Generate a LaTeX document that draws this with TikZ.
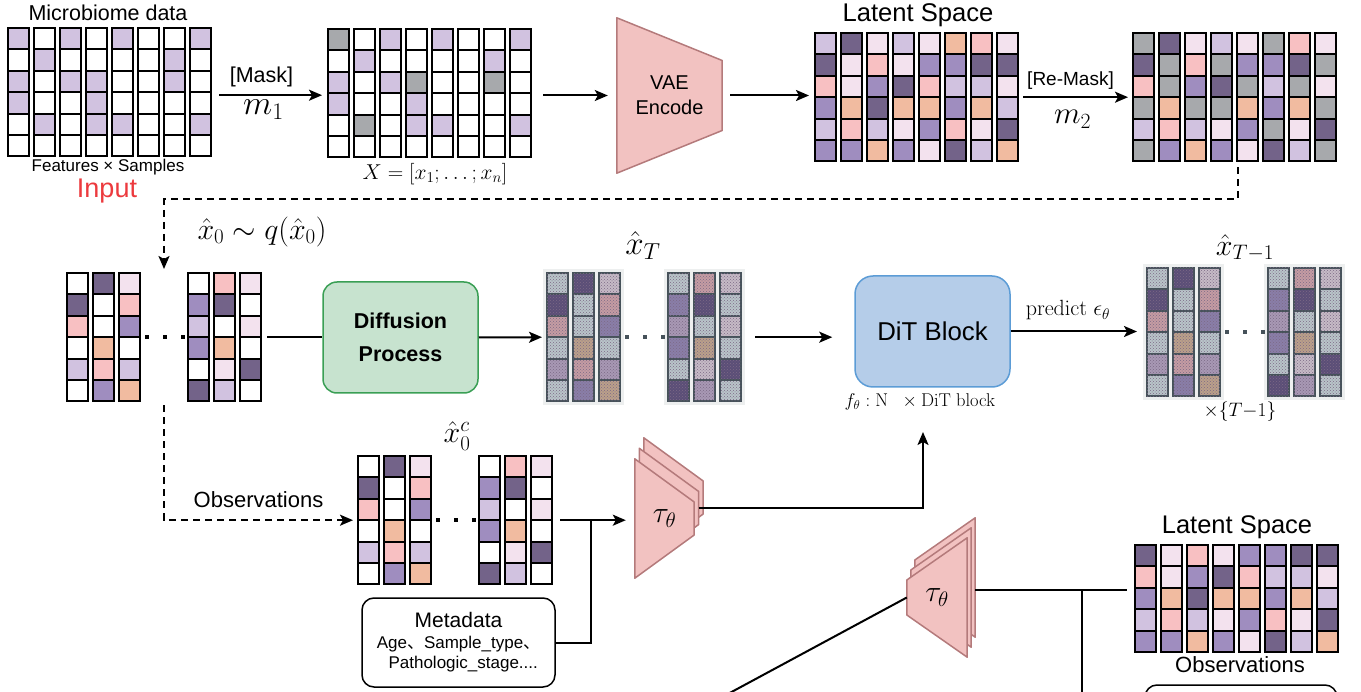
\RequirePackage{fix-cm}
\documentclass[tikz,border=0pt]{standalone}
\usepackage{amsmath}
\usepackage[no-math]{fontspec}
\setmainfont{Liberation Sans}
\newfontfamily\cjk{Noto Sans CJK SC}
\usetikzlibrary{arrows.meta,backgrounds,calc,patterns,positioning}

% cell colours
\definecolor{cellW}{HTML}{FFFFFF}
\definecolor{cellL}{HTML}{D1C2E0}
\definecolor{cellM}{HTML}{9F8DBF}
\definecolor{cellD}{HTML}{736389}
\definecolor{cellP}{HTML}{F8C0C2}
\definecolor{cellO}{HTML}{F1BBA0}
\definecolor{cellV}{HTML}{F3E2EE}
\definecolor{cellG}{HTML}{A7A9AC}
% noisy cell colours
\definecolor{ncellW}{HTML}{B9C4C9}
\definecolor{ncellL}{HTML}{A898B4}
\definecolor{ncellM}{HTML}{8A7EA8}
\definecolor{ncellD}{HTML}{5B4E77}
\definecolor{ncellP}{HTML}{C59CA3}
\definecolor{ncellO}{HTML}{BBA08A}
\definecolor{ncellV}{HTML}{C6BAC6}
\definecolor{nline}{HTML}{46525A}
\definecolor{nspeck}{HTML}{7C6A86}
\definecolor{nback}{HTML}{EDEFEF}
% boxes
\definecolor{encfill}{HTML}{F2C2C1}
\definecolor{encline}{HTML}{B47A7B}
\definecolor{difffill}{HTML}{C7E3CF}
\definecolor{diffline}{HTML}{3A9F55}
\definecolor{ditfill}{HTML}{B5CDE9}
\definecolor{ditline}{HTML}{5C9CD6}
\definecolor{inred}{HTML}{EC3A3E}

\newcommand{\fsz}[2]{\fontsize{#1}{#2}\selectfont}

% #1 grid node, #2 cell style (cell / ncell), #3 extra gap after column 3, #4 rows
\newcommand{\cellgrid}[4]{%
  \foreach \row [count=\j] in {#4} {
    \foreach \code [count=\i] in \row {
      \pgfmathsetmacro{\cx}{(\i-1)*26+(\i>3)*#3}
      \pgfmathsetmacro{\cy}{(\j-1)*21.4}
      \edef\fillcol{#2\code}
      \draw[#2, fill=\fillcol] ($(#1.north west)+(\cx,\cy)$) rectangle ++(21,21.4);
    }
  }%
}
% three dots between the column groups
\newcommand{\griddots}[2]{%
  \foreach \dx in {80,98,116}
    \fill[#2] ($(#1.north west)+(\dx-2.3,61.9)$) rectangle ++(4.6,4.6);%
}
% pale backing of a noisy grid
\newcommand{\noisebg}[1]{%
  \foreach \dx in {0,121}
    \fill[nbg] ($(#1.north west)+(\dx-4,-4)$) rectangle ++(81,136.4);%
}

\begin{document}
\begin{tikzpicture}[
  x=1pt, y=-1pt,
  >={Stealth[length=13pt,width=11pt,inset=3pt]},
  % node styles
  gridbox/.style={rectangle, inner sep=0pt, outer sep=0pt, anchor=north west},
  grid8/.style={gridbox, minimum width=203pt, minimum height=128.4pt},
  grid8s/.style={gridbox, minimum width=203pt, minimum height=107pt},
  grid6/.style={gridbox, minimum width=194pt, minimum height=128.4pt},
  cell/.style={draw=black, line width=2pt},
  ncell/.style={draw=nline, line width=2pt,
    postaction={pattern=crosshatch dots, pattern color=nspeck}},
  nbg/.style={fill=nback},
  txt/.style={inner sep=1pt},
  encbox/.style={rectangle, inner sep=0pt, align=center},
  enc/.style={fill=encfill, draw=encline, line width=1.5pt, line join=round},
  diffbox/.style={
    rectangle, rounded corners=14pt,
    draw=diffline, fill=difffill, line width=1.5pt,
    minimum width=155pt, minimum height=111pt,
    align=center, font=\bfseries\fsz{21.5}{33}
  },
  ditbox/.style={
    rectangle, rounded corners=18pt,
    draw=ditline, fill=ditfill, line width=1.5pt,
    minimum width=155pt, minimum height=111pt,
    font=\fsz{25.8}{28}
  },
  metabox/.style={
    rectangle, rounded corners=12pt,
    draw=black, fill=white, line width=1.5pt,
    minimum width=193pt, minimum height=89pt,
    inner sep=0pt, align=center, font=\fsz{17}{20}
  },
  arr/.style={->, line width=2pt},
  plain/.style={line width=2pt},
  darr/.style={->, line width=2pt, dash pattern=on 7pt off 5pt}
  ]
  \useasboundingbox (0,0) rectangle (1361,692);
  \clip (0,0) rectangle (1361,692);

  %% ─── ROW 1: INPUT, MASK, VAE, LATENT ─────────────────────────────────────
  \node[grid8] (inp) at (8,28) {};
  \cellgrid{inp}{cell}{0}{{L,W,L,W,L,W,W,L},{W,L,W,W,W,W,L,W},{L,W,L,L,W,W,L,W},
    {L,W,W,L,W,W,W,W},{W,L,W,L,L,W,W,L},{W,W,W,W,W,W,W,W}}
  \node[txt, font=\fsz{21.5}{24}] (mbtitle) at (108,13) {Microbiome data};
  \node[txt, font=\fsz{17}{19}] (fxs) at (108,167) {Features × Samples};
  \node[txt, font=\fsz{27}{29}, text=inred] (inlbl) at (107,191) {Input};

  \node[grid8] (msk) at (328,29) {};
  \cellgrid{msk}{cell}{0}{{G,W,L,W,L,W,W,L},{W,L,W,W,W,W,L,W},{L,W,L,G,W,W,G,W},
    {L,W,W,L,W,W,W,W},{W,G,W,L,L,W,W,L},{W,W,W,W,W,W,W,W}}
  \node[txt, font=\fsz{21.5}{23}] (xlist) at (435,174) {$X=[x_1;\ldots;x_n]$};

  \draw[arr] ([xshift=8pt,yshift=-3pt]inp.east) -- ([xshift=-6pt,yshift=-2pt]msk.west)
    node[midway, above=4pt, xshift=-9pt, font=\fsz{21.5}{23}] {[Mask]}
    node[midway, below=0pt, xshift=-7pt, font=\fsz{34}{36}] {$m_1$};

  \node[encbox, minimum width=105pt, minimum height=155pt, font=\fsz{20}{25}] (vae) at (669.5,95.5) {VAE\\Encode};
  \draw[arr] ([xshift=12pt]msk.east |- vae.west) -- ([xshift=-9pt]vae.west);

  \node[grid8] (lat) at (815,33) {};
  \cellgrid{lat}{cell}{0}{{L,D,V,L,V,O,P,V},{D,V,P,V,M,M,D,D},{P,V,M,D,P,L,L,V},
    {M,O,D,O,O,M,O,L},{L,P,L,V,M,P,V,D},{M,M,O,M,V,D,L,O}}
  \node[txt, font=\fsz{25.6}{28}] (lattl) at (918,15) {Latent Space};
  \draw[arr] ([xshift=8pt]vae.east) -- ([xshift=-6pt]lat.west |- vae.east);

  \node[grid8] (rmk) at (1133,33) {};
  \cellgrid{rmk}{cell}{0}{{G,D,V,L,V,G,P,V},{D,G,P,G,M,M,D,G},{P,G,M,D,G,L,G,V},
    {G,O,G,G,O,M,O,G},{L,P,L,V,M,G,V,D},{G,M,O,M,V,D,L,G}}
  \draw[arr] ([xshift=5pt]lat.east) -- ([xshift=-5pt]rmk.west)
    node[midway, above=3pt, xshift=-5pt, font=\fsz{19}{21}] {[Re-Mask]}
    node[midway, below=9pt, xshift=-3pt, font=\fsz{31}{33}] {$m_2$};

  %% ─── ROW 2: DIFFUSION ────────────────────────────────────────────────────
  \node[grid6] (x0) at (67,273) {};
  \cellgrid{x0}{cell}{43}{{W,D,V,W,P,V},{D,W,P,M,D,W},{P,W,M,L,W,V},
    {W,O,W,M,O,W},{L,P,L,W,V,D},{W,M,O,D,L,W}}
  \griddots{x0}{black}
  \node[txt, font=\fsz{30}{32}] (q0) at (262,232) {$\hat{x}_0\sim q(\hat{x}_0)$};

  % feedback from the re-masked latent
  \draw[darr] ([xshift=3pt,yshift=-6pt]rmk.south) -- ++(0,32) -| ([yshift=4pt]x0.north);

  \node[diffbox] (diff) at (400.5,337.5) {Diffusion\\Process};
  \draw[plain] ([xshift=6pt]x0.east) -- (diff.west |- x0.east);

  \node[grid6] (xT) at (547,273) {};
  \noisebg{xT}
  \cellgrid{xT}{ncell}{43}{{W,D,V,W,P,V},{D,W,P,M,D,W},{P,W,M,L,W,V},
    {W,O,W,M,O,W},{L,P,L,W,V,D},{W,M,O,D,L,W}}
  \griddots{xT}{nline}
  \node[txt, font=\fsz{33}{35}] (xTl) at (643,246) {$\hat{x}_T$};
  \draw[arr] (diff.east) -- ([xshift=-5pt]xT.west);

  \node[ditbox] (dit) at (932.5,331.5) {DiT Block};
  \node[txt, font=\fsz{18.5}{20}] (ftheta) at (920,402) {$f_\theta:\mathrm{N}\ \ \times\mathrm{DiT\ block}$};
  \draw[arr] ([xshift=14pt]xT.east) -- ([xshift=-22pt]dit.west |- xT.east);

  \node[grid6] (xT1) at (1147,268) {};
  \noisebg{xT1}
  \cellgrid{xT1}{ncell}{43}{{W,D,V,W,P,V},{D,W,P,M,D,W},{P,W,M,L,W,V},
    {W,O,W,M,O,W},{L,P,L,W,V,D},{W,M,O,D,L,W}}
  \griddots{xT1}{nline}
  \node[txt, font=\fsz{30}{32}] (xT1l) at (1245,248) {$\hat{x}_{T-1}$};
  \node[txt, font=\fsz{19.5}{21}] (reps) at (1240,412) {$\times\{T{-}1\}$};
  \draw[arr] (dit.east) -- ([xshift=-10pt]xT1.west |- dit.east)
    node[midway, above=7pt, xshift=-6pt, font=\fsz{22}{24}] {$\mathrm{predict}\ \epsilon_\theta$};

  %% ─── ROW 3: CONDITIONING ─────────────────────────────────────────────────
  \node[grid6] (x0c) at (358,456) {};
  \cellgrid{x0c}{cell}{43}{{W,D,V,W,P,V},{D,W,P,M,D,W},{P,W,M,L,W,V},
    {W,O,W,M,O,W},{L,P,L,W,V,D},{W,M,O,D,L,W}}
  \griddots{x0c}{black}
  \node[txt, font=\fsz{30}{32}] (x0cl) at (457,436) {$\hat{x}_0^c$};
  \draw[darr] ([yshift=-4pt]x0.south) |- ([xshift=-5pt]x0c.west)
    node[pos=0.75, above=8pt, font=\fsz{22}{24}] {Observations};

  \node[metabox] (meta) at (458.5,642.5)
    {{\fsz{21}{24}Metadata}\\[1pt]Age{\cjk 、}Sample\_type{\cjk 、}\\\ \ Pathologic\_stage....};

  \node[encbox, minimum width=59pt, minimum height=119pt, font=\fsz{30}{32}] (tau1) at (664.5,518.5) {$\tau_\theta$};
  \coordinate (jn) at (591,520);
  \draw[arr] ([xshift=8pt]x0c.east) -- ([xshift=-9pt]tau1.west |- x0c.east);
  \draw[plain] (meta.east) -| (jn);
  \coordinate (ditin) at (923,432);
  \draw[arr] ($(tau1.east)+(4.5,-10.5)$) -| (ditin);

  \node[encbox, minimum width=60pt, minimum height=119pt, font=\fsz{30}{32}] (tau2) at (937,597.5) {$\tau_\theta$};
  \node[grid8s] (latb) at (1135,545) {};
  \cellgrid{latb}{cell}{0}{{D,V,P,V,M,M,D,D},{P,V,M,D,P,L,L,V},{M,O,D,O,O,M,O,L},
    {L,P,L,V,M,P,V,D},{M,M,O,M,V,D,L,O}}
  \node[txt, font=\fsz{25.5}{28}] (latbl) at (1237,527) {Latent Space};
  \node[txt, font=\fsz{22}{24}] (obsl) at (1240,665) {Observations};
  \node[metabox, minimum width=192pt, minimum height=70pt] (obs) at (1241,720) {};

  \coordinate (t2out) at ($(tau2.east)+(8,-7.5)$);
  \draw[plain] (t2out) -- ([xshift=-8pt]latb.west |- t2out);
  \coordinate (jn2) at (1082,590);
  \coordinate (offb) at (1082,720);
  \draw[plain] (jn2) -- (offb);
  \coordinate (offd) at (700,709);
  \draw[plain] (tau2.west) -- (offd);

  % encoder shapes behind their labels
  \begin{scope}[on background layer]
    \draw[enc] (vae.north west) -- ([yshift=35pt]vae.east) -- ([yshift=-35pt]vae.east) -- (vae.south west) -- cycle;
    \foreach \k in {2,1,0} {
      \draw[enc] ($(tau1.north west)+(4.5*\k,-10.5*\k)$) -- ($(tau1.east)+(4.5*\k,-16.5-10.5*\k)$)
        -- ($(tau1.east)+(4.5*\k,16.5-10.5*\k)$) -- ($(tau1.south west)+(4.5*\k,-10.5*\k)$) -- cycle;
      \draw[enc] ($(tau2.west)+(4*\k,-17.5-10*\k)$) -- ($(tau2.north east)+(4*\k,-10*\k)$)
        -- ($(tau2.south east)+(4*\k,-10*\k)$) -- ($(tau2.west)+(4*\k,17.5-10*\k)$) -- cycle;
    }
  \end{scope}
\end{tikzpicture}
\end{document}
